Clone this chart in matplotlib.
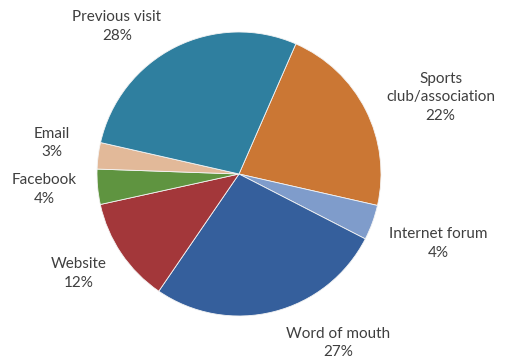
import numpy as np
import matplotlib
matplotlib.use('Agg')
from matplotlib import pyplot as plt

# slice data, clockwise from the top
categories = ['Sports\nclub/association', 'Internet forum', 'Word of mouth',
              'Website', 'Facebook', 'Email', 'Previous visit']
shares = [22, 4, 27, 12, 4, 3, 28]
colors = ['#cb7734', '#7f9ccb', '#355f9c', '#a3373a', '#5f9440', '#e2b999',
          '#2f7f9f']
# label anchors (data units, pie radius = 1)
label_xy = [(1.42, 0.54), (1.40, -0.49), (0.70, -1.19), (-1.13, -0.70),
            (-1.37, -0.11), (-1.32, 0.22), (-0.86, 1.04)]

plt.rcParams['font.family'] = ['Lato', 'DejaVu Sans']

fig = plt.figure(figsize=(5.07, 3.62), dpi=100)
ax = fig.add_axes([0, 0, 1, 1])
ax.pie(shares, colors=colors, startangle=66.4, counterclock=False,
       wedgeprops=dict(edgecolor='#f4f4f4', linewidth=0.6))
for lab, val, (x, y) in zip(categories, shares, label_xy):
    ax.text(x, y, '{}\n{}%'.format(lab, val), ha='center', va='center',
            fontsize=11, color='#3f3f3f', linespacing=1.4)
# pixel scale: 142 px per unit, pie centre at (239, 174)
ax.set_xlim(-239 / 142, (507 - 239) / 142)
ax.set_ylim((174 - 362) / 142, 174 / 142)
ax.set_aspect('auto')
ax.axis('off')
fig.savefig('out.png', dpi=100)
